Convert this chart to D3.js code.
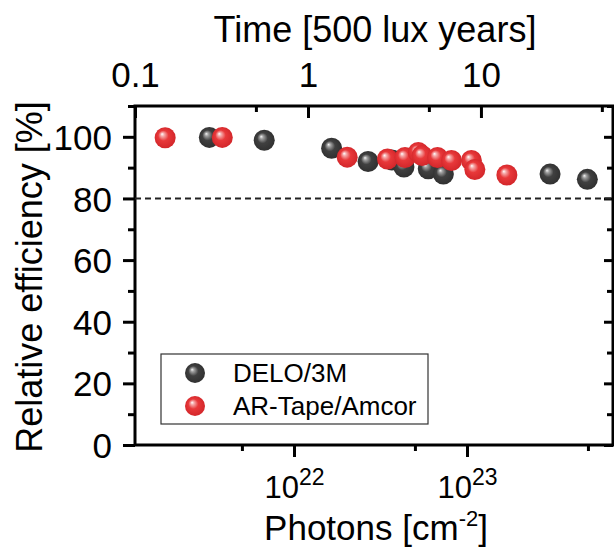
<!DOCTYPE html>
<html>
<head>
<meta charset="utf-8">
<script src="https://cdn.jsdelivr.net/npm/d3@7"></script>
<style>
  body { margin: 0; background: #fff; }
  svg { display: block; font-family: "Liberation Sans", Arial, sans-serif; }
</style>
</head>
<body>
<svg id="chart" width="614" height="550"></svg>
<script>
// data
const seriesNames = ["DELO/3M", "AR-Tape/Amcor"];
const deloPhotons = [3.24e21, 6.73e21, 1.65e22, 2.68e22, 3.68e22, 4.32e22, 5.97e22, 7.30e22, 3.02e23, 4.96e23];
const deloEff = [99.8, 98.9, 96.3, 92.0, 92.5, 90.2, 89.6, 87.9, 87.9, 86.2];
const arPhotons = [1.80e21, 3.85e21, 2.03e22, 3.47e22, 4.38e22, 5.23e22, 5.50e22, 6.75e22, 8.13e22, 1.06e23, 1.11e23, 1.70e23];
const arEff = [99.7, 99.8, 93.4, 92.8, 93.3, 94.9, 93.9, 93.3, 92.3, 92.3, 89.4, 87.6];
const threshold = 80;

const yMajor = [0, 20, 40, 60, 80, 100];
const yMinor = [10, 30, 50, 70, 90, 110];
const photonMajor = [1e22, 1e23];
const photonMinor = [5e21, 5e22, 5e23];
const timeMajor = [0.1, 1, 10];
const timeMinor = [0.5, 5, 50];

const svg = d3.select("#chart");
const margin = { top: 106, right: 1, bottom: 105, left: 135 };
const width = +svg.attr("width") - margin.left - margin.right;
const height = +svg.attr("height") - margin.top - margin.bottom;
const g = svg.append("g").attr("transform", `translate(${margin.left},${margin.top})`);

const x = d3.scaleLog().domain([1.205e21, 6.98e23]).range([0, width]);
const xTop = d3.scaleLog().domain([0.1, 58]).range([0, width]);
const y = d3.scaleLinear().domain([0, 110]).range([height, 0]);

// sphere-like gradients
const defs = svg.append("defs");
function sphere(id, hi, mid, base, edge) {
    const gr = defs.append("radialGradient").attr("id", id)
        .attr("cx", "50%").attr("cy", "50%").attr("r", "55%")
        .attr("fx", "35%").attr("fy", "32%");
    gr.append("stop").attr("offset", "0%").attr("stop-color", hi);
    gr.append("stop").attr("offset", "16%").attr("stop-color", mid);
    gr.append("stop").attr("offset", "45%").attr("stop-color", base);
    gr.append("stop").attr("offset", "100%").attr("stop-color", edge);
}
sphere("ballBlack", "#f6f6f6", "#a0a0a0", "#404040", "#2e2e2e");
sphere("ballRed", "#ffffff", "#f5a8a8", "#e8383a", "#d02428");

// minor + major ticks
function ticks(axis, vals, size, fmt) {
    return axis.tickValues(vals).tickSize(size).tickFormat(fmt || "");
}

// left
const gl = g.append("g").call(ticks(d3.axisLeft(y), yMajor, 12, d3.format("d")).tickPadding(11));
g.append("g").call(ticks(d3.axisLeft(y), yMinor, 7));
// right (inward)
g.append("g").attr("transform", `translate(${width},0)`).call(ticks(d3.axisLeft(y), yMajor, 9));
g.append("g").attr("transform", `translate(${width},0)`).call(ticks(d3.axisLeft(y), yMinor, 6));
// bottom
const gb = g.append("g").attr("transform", `translate(0,${height})`)
    .call(ticks(d3.axisBottom(x), photonMajor, 12, d => "10"));
g.append("g").attr("transform", `translate(0,${height})`).call(ticks(d3.axisBottom(x), photonMinor, 6));
// top (inward)
const gt = g.append("g").call(ticks(d3.axisTop(xTop), timeMajor, -12, d => String(d)).tickPadding(19));
g.append("g").call(ticks(d3.axisTop(xTop), timeMinor, -6));

g.selectAll(".domain").remove();
g.selectAll(".tick line").attr("stroke", "#000").attr("stroke-width", 3);
g.selectAll(".tick text").attr("fill", "#000").style("font-family", "'Liberation Sans', Arial, sans-serif");
gl.selectAll("text").style("font-size", "35px").attr("dy", "0.36em");
gt.selectAll("text").style("font-size", "35px");

gb.selectAll("text")
    .style("font-size", "31px")
    .attr("y", 53).attr("dy", null)
    .each(function(d) {
        const t = d3.select(this);
        t.text("10");
        t.append("tspan").attr("dy", -13).style("font-size", "23px").text(Math.round(Math.log10(d)));
    });

// frame
g.append("rect").attr("width", width).attr("height", height)
    .attr("fill", "none").attr("stroke", "#000").attr("stroke-width", 3);

// 80 % line
g.append("line")
    .attr("x1", 0).attr("x2", width)
    .attr("y1", y(threshold)).attr("y2", y(threshold))
    .attr("stroke", "#222").attr("stroke-width", 2)
    .attr("stroke-dasharray", "6,4");

// points
const delo = deloPhotons.map((p, i) => ({ p: p, v: deloEff[i] }));
const ar = arPhotons.map((p, i) => ({ p: p, v: arEff[i] }));

g.selectAll(".delo").data(delo).enter().append("circle")
    .attr("class", "delo")
    .attr("cx", d => x(d.p)).attr("cy", d => y(d.v)).attr("r", 10.5)
    .attr("fill", "url(#ballBlack)");

g.selectAll(".ar").data(ar).enter().append("circle")
    .attr("class", "ar")
    .attr("cx", d => x(d.p)).attr("cy", d => y(d.v)).attr("r", 10.5)
    .attr("fill", "url(#ballRed)");

// legend
const legend = svg.append("g").attr("transform", "translate(161,354)");
legend.append("rect").attr("width", 267).attr("height", 70)
    .attr("fill", "#fff").attr("stroke", "#333").attr("stroke-width", 1.2);
seriesNames.forEach((name, i) => {
    const row = legend.append("g").attr("transform", `translate(0, ${i * 33})`);
    row.append("circle").attr("cx", 34).attr("cy", 19).attr("r", 10)
        .attr("fill", i === 0 ? "url(#ballBlack)" : "url(#ballRed)");
    row.append("text").attr("x", 72).attr("y", 28)
        .style("font-size", "26px").attr("fill", "#000")
        .text(name);
});

// axis titles
svg.append("text")
    .attr("x", 375).attr("y", 42)
    .attr("text-anchor", "middle")
    .style("font-size", "36px")
    .text("Time [500 lux years]");

const xt = svg.append("text")
    .attr("x", 376).attr("y", 540)
    .attr("text-anchor", "middle")
    .style("font-size", "35px")
    .text("Photons [cm");
xt.append("tspan").attr("dy", -14).style("font-size", "22px").text("-2");
xt.append("tspan").attr("dy", 14).text("]");

svg.append("text")
    .attr("transform", "translate(42,277) rotate(-90)")
    .attr("text-anchor", "middle")
    .style("font-size", "36px")
    .text("Relative efficiency [%]");
</script>
</body>
</html>
